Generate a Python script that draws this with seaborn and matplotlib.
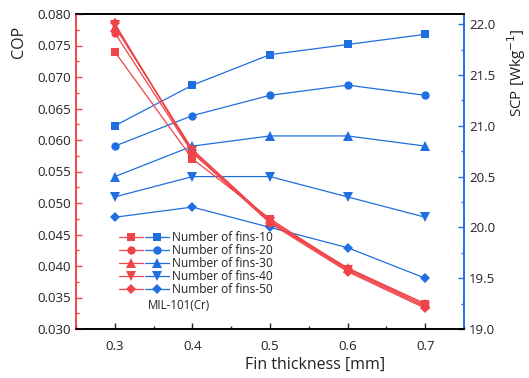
import matplotlib
matplotlib.use("Agg")
import matplotlib.pyplot as plt
import seaborn as sns
import pandas as pd
from matplotlib.legend_handler import HandlerTuple
from matplotlib.lines import Line2D
from matplotlib.ticker import MultipleLocator

sns.set_style("ticks")
plt.rcParams['font.family'] = ['Open Sans', 'DejaVu Sans']

thickness = [0.3, 0.4, 0.5, 0.6, 0.7]
fins = ["Number of fins-10", "Number of fins-20", "Number of fins-30",
        "Number of fins-40", "Number of fins-50"]

cop_10 = [0.0740, 0.0570, 0.0475, 0.0395, 0.0340]
cop_20 = [0.0770, 0.0580, 0.0470, 0.0395, 0.0337]
cop_30 = [0.0780, 0.0585, 0.0472, 0.0397, 0.0340]
cop_40 = [0.0783, 0.0583, 0.0470, 0.0393, 0.0335]
cop_50 = [0.0785, 0.0580, 0.0468, 0.0391, 0.0333]

scp_10 = [21.0, 21.4, 21.7, 21.8, 21.9]
scp_20 = [20.8, 21.1, 21.3, 21.4, 21.3]
scp_30 = [20.5, 20.8, 20.9, 20.9, 20.8]
scp_40 = [20.3, 20.5, 20.5, 20.3, 20.1]
scp_50 = [20.1, 20.2, 20.0, 19.8, 19.5]

cop = [cop_10, cop_20, cop_30, cop_40, cop_50]
scp = [scp_10, scp_20, scp_30, scp_40, scp_50]
markers = ["s", "o", "^", "v", "D"]
msizes = [5.5, 6, 6.5, 6.5, 5.5]

RED = "#F04448"
BLUE = "#1F6FE0"
DARK = "#222222"

fig = plt.figure(figsize=(5.29, 3.78), dpi=100)
ax1 = fig.add_axes([76/529, 1-329/378, (464-76)/529, (329-14)/378])
ax2 = ax1.twinx()

for name, ys, m, ms in zip(fins, scp, markers, msizes):
    df = pd.DataFrame({"t": thickness, "v": ys})
    sns.lineplot(data=df, x="t", y="v", ax=ax2, color=BLUE, marker=m,
                 markersize=ms, markeredgewidth=0, linewidth=0.9, legend=False)
for name, ys, m, ms in zip(fins, cop, markers, msizes):
    df = pd.DataFrame({"t": thickness, "v": ys})
    sns.lineplot(data=df, x="t", y="v", ax=ax1, color=RED, marker=m,
                 markersize=ms, markeredgewidth=0, linewidth=0.9, legend=False)

ax1.set_zorder(ax2.get_zorder() + 1)
ax1.patch.set_visible(False)

ax1.set_xlim(0.25, 0.75)
ax1.set_xticks(thickness)
ax1.xaxis.set_minor_locator(MultipleLocator(0.05))
ax1.yaxis.set_minor_locator(MultipleLocator(0.0025))
ax1.set_yticks([0.030, 0.035, 0.040, 0.045, 0.050, 0.055, 0.060, 0.065, 0.070, 0.075, 0.080])
ax1.set_yticklabels([f"{v:.3f}" for v in ax1.get_yticks()])
ax1.set_ylim(0.030, 0.080)
ax2.yaxis.set_minor_locator(MultipleLocator(0.25))
ax2.set_yticks([19.0, 19.5, 20.0, 20.5, 21.0, 21.5, 22.0])
ax2.set_yticklabels([f"{v:.1f}" for v in [19.0, 19.5, 20.0, 20.5, 21.0, 21.5, 22.0]])
ax2.set_ylim(19.0, 22.1)

fs = 9.5
ax1.tick_params(axis="x", which="both", direction="in", colors=DARK, labelsize=fs, pad=8)
ax1.tick_params(axis="x", which="major", length=4, width=1)
ax1.tick_params(axis="x", which="minor", length=2.5, width=1)
ax1.tick_params(axis="y", which="both", direction="in", color=RED, labelcolor=DARK, labelsize=fs)
ax1.tick_params(axis="y", which="major", length=4, width=1)
ax1.tick_params(axis="y", which="minor", length=2.5, width=1)
ax2.tick_params(axis="y", which="both", direction="in", color=BLUE, labelcolor=DARK, labelsize=fs)
ax2.tick_params(axis="y", which="major", length=4, width=1)
ax2.tick_params(axis="y", which="minor", length=2.5, width=1)
ax1.tick_params(axis="x", which="both", top=False)

for ax in (ax1, ax2):
    ax.spines["top"].set_color("black")
    ax.spines["bottom"].set_color("black")
    ax.spines["top"].set_linewidth(1.2)
    ax.spines["bottom"].set_linewidth(1.2)
    ax.spines["left"].set_color(RED)
    ax.spines["right"].set_color(BLUE)
    ax.spines["left"].set_linewidth(1.2)
    ax.spines["right"].set_linewidth(1.2)

lfs = 11.5
ax1.set_xlabel("Fin thickness [mm]", fontsize=lfs, color=DARK)
ax1.xaxis.set_label_coords(0.616, -0.114)
ax1.xaxis.label.set_va("center")
ax1.set_ylabel("COP", fontsize=lfs, color=DARK)
ax1.yaxis.set_label_coords(-0.147, 0.911)
ax1.yaxis.label.set_va("center")
ax2.set_ylabel("SCP [Wkg$^{-1}$]", fontsize=11, color=DARK)
ax2.yaxis.set_label_coords(1.136, 0.813)
ax2.yaxis.label.set_va("center")

handles = []
for m, ms in zip(markers, msizes):
    r = Line2D([], [], color=RED, marker=m, markersize=ms, markeredgewidth=0, linewidth=0.9)
    b = Line2D([], [], color=BLUE, marker=m, markersize=ms, markeredgewidth=0, linewidth=0.9)
    handles.append((r, b))
leg = ax1.legend(handles, fins, handler_map={tuple: HandlerTuple(ndivide=2, pad=0.2)},
                 loc="upper left", bbox_to_anchor=(0.11, 0.31), frameon=False,
                 fontsize=8.6, handlelength=4.2, handletextpad=0.25, labelspacing=0.0,
                 borderpad=0.0, borderaxespad=0.0, labelcolor=DARK)
ax1.text(0.185, 0.075, "MIL-101(Cr)", transform=ax1.transAxes, fontsize=8.3,
         color=DARK, ha="left", va="center")

fig.savefig("out.png", dpi=100)
